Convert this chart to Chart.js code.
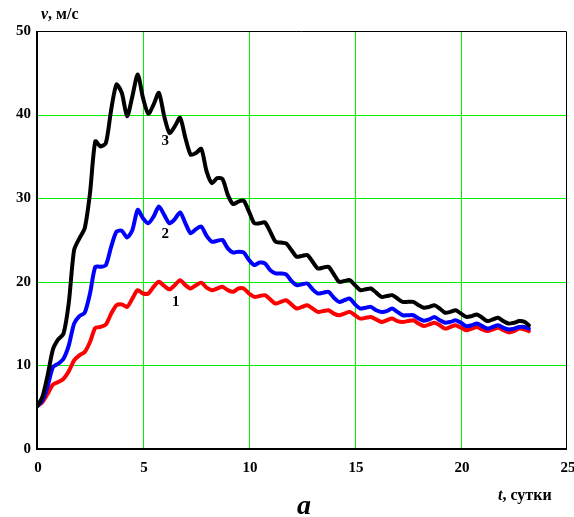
<!DOCTYPE html>
<html>
<head>
<meta charset="utf-8">
<script src="https://cdn.jsdelivr.net/npm/chart.js@4"></script>
<style>
  html, body { margin: 0; padding: 0; background: #fff; }
  #wrap { width: 574px; height: 517px; }
</style>
</head>
<body>
<div id="wrap"><canvas id="chart" width="574" height="517"></canvas></div>
<script>
// time, days (sampled every 6 hours)
const tDays = [
  0, 0.25, 0.5, 0.75, 1, 1.25, 1.5, 1.75, 2, 2.25, 2.5, 2.75,
  3, 3.25, 3.5, 3.75, 4, 4.25, 4.5, 4.75, 5, 5.25, 5.5, 5.75,
  6, 6.25, 6.5, 6.75, 7, 7.25, 7.5, 7.75, 8, 8.25, 8.5, 8.75,
  9, 9.25, 9.5, 9.75, 10, 10.25, 10.5, 10.75, 11, 11.25, 11.5, 11.75,
  12, 12.25, 12.5, 12.75, 13, 13.25, 13.5, 13.75, 14, 14.25, 14.5, 14.75,
  15, 15.25, 15.5, 15.75, 16, 16.25, 16.5, 16.75, 17, 17.25, 17.5, 17.75,
  18, 18.25, 18.5, 18.75, 19, 19.25, 19.5, 19.75, 20, 20.25, 20.5, 20.75,
  21, 21.25, 21.5, 21.75, 22, 22.25, 22.5, 22.75, 23, 23.2
];

// curve 1 (red)
const v1 = [
  5.1, 5.6, 6.6, 7.7, 8.0, 8.4, 9.3, 10.6, 11.2, 11.6, 12.8, 14.5,
  14.6, 14.9, 16.2, 17.2, 17.3, 17.0, 18.0, 19.0, 18.6, 18.6, 19.4, 20.0,
  19.5, 19.1, 19.6, 20.2, 19.6, 19.2, 19.6, 19.9, 19.3, 19.0, 19.2, 19.4,
  19.0, 18.8, 19.2, 19.2, 18.6, 18.2, 18.3, 18.4, 17.9, 17.4, 17.6, 17.8,
  17.3, 16.8, 17.0, 17.2, 16.8, 16.4, 16.5, 16.6, 16.2, 16.0, 16.2, 16.4,
  16.0, 15.6, 15.7, 15.8, 15.5, 15.2, 15.4, 15.6, 15.3, 15.2, 15.3, 15.4,
  15.0, 14.7, 14.9, 15.1, 14.8, 14.4, 14.6, 14.8, 14.5, 14.2, 14.4, 14.6,
  14.3, 14.1, 14.3, 14.5, 14.2, 13.95, 14.1, 14.4, 14.3, 14.1
];

// curve 2 (blue)
const v2 = [
  5.1, 5.8, 7.5, 9.8, 10.2, 10.8, 12.4, 15.0, 15.9, 16.3, 18.6, 21.8,
  21.8, 22.0, 24.2, 26.0, 26.1, 25.3, 26.2, 28.6, 27.6, 27.0, 27.8, 29.0,
  28.0, 27.0, 27.5, 28.3, 27.0, 25.8, 26.3, 26.6, 25.5, 24.8, 24.9, 25.0,
  24.0, 23.5, 23.6, 23.5, 22.6, 22.0, 22.3, 22.2, 21.4, 21.0, 21.0, 20.9,
  20.1, 19.6, 19.7, 19.8, 19.1, 18.6, 18.7, 18.8, 18.1, 17.6, 17.8, 18.0,
  17.3, 16.8, 16.9, 17.0, 16.6, 16.4, 16.5, 16.8, 16.4, 16.0, 16.0, 16.0,
  15.6, 15.35, 15.5, 15.8, 15.4, 15.1, 15.2, 15.4, 15.1, 14.7, 14.8, 15.0,
  14.7, 14.4, 14.6, 14.8, 14.5, 14.3, 14.4, 14.6, 14.6, 14.4
];

// curve 3 (black)
const v3 = [
  5.1, 6.2, 8.8, 11.9, 13.1, 13.8, 17.5, 23.8, 25.2, 26.4, 30.6, 36.8,
  36.2, 36.6, 40.6, 43.6, 42.6, 39.8, 42.2, 44.8, 42.0, 40.1, 41.2, 42.6,
  39.8, 37.8, 38.6, 39.6, 37.2, 35.2, 35.4, 35.9, 33.2, 31.8, 32.4, 32.3,
  30.4, 29.3, 29.6, 29.7, 28.4, 27.0, 27.0, 27.1, 26.0, 24.8, 24.7, 24.6,
  23.8, 23.0, 23.1, 23.2, 22.4, 21.6, 21.7, 21.8, 20.9, 20.0, 20.1, 20.2,
  19.6, 19.0, 19.1, 19.2, 18.7, 18.2, 18.3, 18.4, 18.0, 17.6, 17.6, 17.6,
  17.2, 16.9, 17.0, 17.2, 16.8, 16.3, 16.4, 16.6, 16.2, 15.8, 15.9, 16.1,
  15.7, 15.3, 15.5, 15.7, 15.3, 15.0, 15.1, 15.3, 15.2, 14.8
];

const xTicks = [0, 5, 10, 15, 20, 25];
const yTicks = [0, 10, 20, 30, 40, 50];

// curve numbers, placed in data coordinates
const curveLabels = [
  { text: "1", t: 6.55, v: 17.6 },
  { text: "2", t: 6.05, v: 25.7 },
  { text: "3", t: 6.05, v: 36.8 }
];

const SERIF = '"Liberation Serif", "Times New Roman", serif';
const GRID = "#00f000";
const NONE = "rgba(0,0,0,0)";

const toPoints = vals => tDays.map((t, i) => ({ x: t, y: vals[i] }));

// green grid (inner lines only), drawn from the scales' ticks
const greenGrid = {
  id: "greenGrid",
  beforeDatasetsDraw(chart) {
    const { ctx, chartArea: a, scales } = chart;
    ctx.save();
    ctx.strokeStyle = GRID;
    ctx.lineWidth = 1;
    ctx.beginPath();
    scales.x.ticks.forEach((tk, i, arr) => {
      if (i === 0 || i === arr.length - 1) return;
      const px = Math.round(scales.x.getPixelForValue(tk.value)) + 0.5;
      ctx.moveTo(px, a.top);
      ctx.lineTo(px, a.bottom);
    });
    scales.y.ticks.forEach((tk, i, arr) => {
      if (i === 0 || i === arr.length - 1) return;
      const py = Math.round(scales.y.getPixelForValue(tk.value)) + 0.5;
      ctx.moveTo(a.left, py);
      ctx.lineTo(a.right, py);
    });
    ctx.stroke();
    ctx.restore();
  }
};

const frameAndText = {
  id: "frameAndText",
  afterDatasetsDraw(chart) {
    const { ctx, chartArea: a, scales } = chart;
    ctx.save();
    ctx.strokeStyle = "#000";
    ctx.lineWidth = 1;
    ctx.beginPath();
    ctx.moveTo(a.left, a.top + 0.5);
    ctx.lineTo(a.right - 0.5, a.top + 0.5);
    ctx.lineTo(a.right - 0.5, a.bottom);
    ctx.stroke();
    ctx.lineWidth = 2;
    ctx.beginPath();
    ctx.moveTo(a.left, a.top);
    ctx.lineTo(a.left, a.bottom);
    ctx.lineTo(a.right, a.bottom);
    ctx.stroke();

    ctx.fillStyle = "#000";
    ctx.textAlign = "center";
    ctx.textBaseline = "middle";
    ctx.font = "bold 15px " + SERIF;
    curveLabels.forEach(l => {
      ctx.fillText(l.text, scales.x.getPixelForValue(l.t), scales.y.getPixelForValue(l.v));
    });

    // axis captions
    ctx.textAlign = "left";
    ctx.textBaseline = "alphabetic";
    ctx.font = "italic bold 16px " + SERIF;
    ctx.fillText("v", 41, 19);
    let w = ctx.measureText("v").width;
    ctx.font = "bold 16px " + SERIF;
    ctx.fillText(", м/с", 41 + w, 19);

    ctx.font = "italic bold 16px " + SERIF;
    ctx.fillText("t", 498, 500);
    w = ctx.measureText("t").width;
    ctx.font = "bold 16px " + SERIF;
    ctx.fillText(", сутки", 498 + w, 500);

    ctx.textAlign = "center";
    ctx.font = "italic bold 28px " + SERIF;
    ctx.fillText("a", 304, 514);
    ctx.restore();
  }
};

new Chart(document.getElementById("chart"), {
  type: "line",
  data: {
    datasets: [
      { label: "3", data: toPoints(v3), borderColor: "#000000", order: 0 },
      { label: "2", data: toPoints(v2), borderColor: "#0000ff", order: 1 },
      { label: "1", data: toPoints(v1), borderColor: "#ff0000", order: 2 }
    ]
  },
  options: {
    responsive: false,
    animation: false,
    devicePixelRatio: 1,
    layout: { padding: { top: 31, right: 7, left: 0, bottom: 0 } },
    elements: {
      line: { borderWidth: 4, tension: 0.25, borderCapStyle: "round", borderJoinStyle: "round" },
      point: { radius: 0 }
    },
    plugins: { legend: { display: false }, tooltip: { enabled: false } },
    scales: {
      x: {
        type: "linear",
        min: 0,
        max: 25,
        afterBuildTicks: s => { s.ticks = xTicks.map(v => ({ value: v })); },
        afterFit: s => { s.height = 68; s.paddingLeft = 0; s.paddingRight = 0; },
        border: { display: false },
        grid: { drawTicks: false, color: NONE },
        ticks: {
          padding: 10,
          labelOffset: 1,
          color: "#000",
          font: { family: SERIF, size: 15, weight: "bold" },
          maxRotation: 0
        }
      },
      y: {
        type: "linear",
        min: 0,
        max: 50,
        afterBuildTicks: s => { s.ticks = yTicks.map(v => ({ value: v })); },
        afterFit: s => { s.width = 37; s.paddingTop = 0; s.paddingBottom = 0; },
        border: { display: false },
        grid: { drawTicks: false, color: NONE },
        ticks: {
          padding: 6,
          color: "#000",
          font: { family: SERIF, size: 15, weight: "bold" }
        }
      }
    }
  },
  plugins: [greenGrid, frameAndText]
});
</script>
</body>
</html>
